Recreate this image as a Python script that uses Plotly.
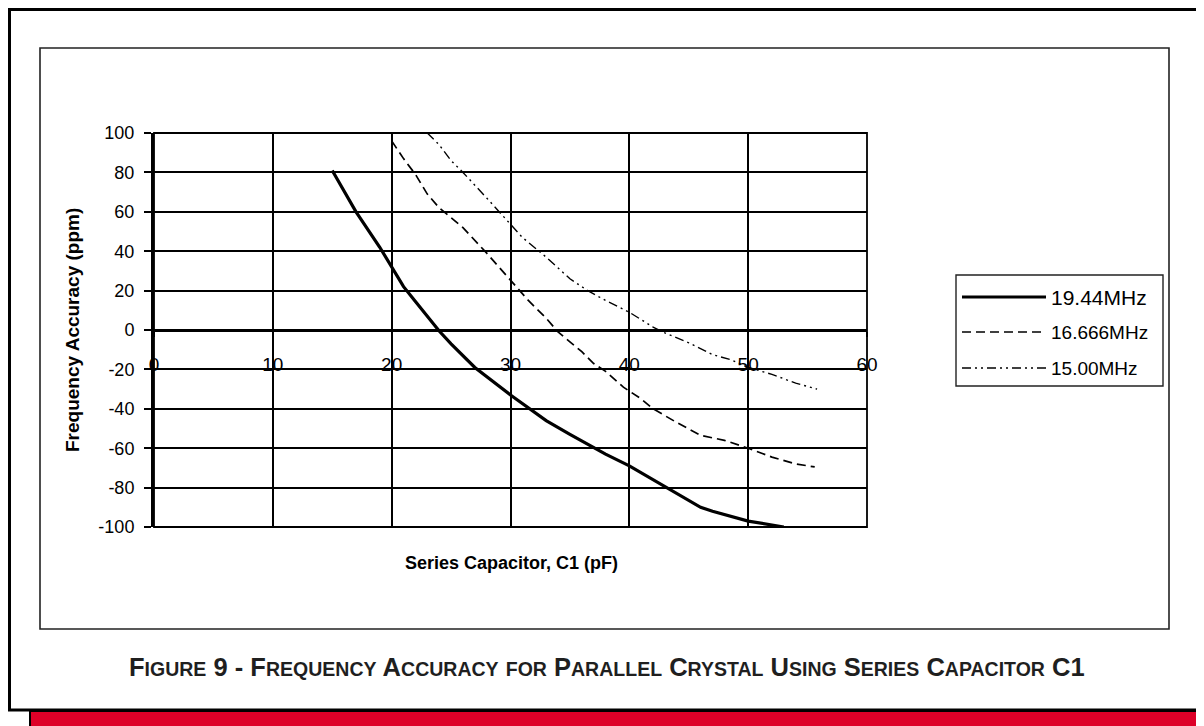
import plotly.graph_objects as go

# ---------------- data ----------------
x_1944 = [15, 17, 19, 20, 21, 22, 23, 24, 25, 27, 30, 33, 35, 38, 40, 42, 44, 46, 47, 50, 53]
y_1944 = [81, 60, 42, 32, 22, 14.5, 7, -0.5, -7, -19, -33, -46, -53, -63, -69, -76, -83, -90, -92, -97, -100]

x_16666 = [20, 21, 22, 23, 24, 25, 26, 28, 30, 31.5, 33, 34, 35, 36, 37, 38, 39.5, 41, 42, 44, 46, 48, 50, 52, 54, 55.6]
y_16666 = [96, 87, 79, 69, 62, 57, 52, 39, 25, 15, 6, -1, -6, -11, -17, -21, -29, -35, -40, -47, -53.5, -56, -60, -64.5, -68, -69.5]

x_1500 = [23, 24, 25, 26, 28, 30, 31, 33, 35, 36.5, 38, 40, 42, 43, 45, 47, 48.5, 50, 52, 54, 55.8]
y_1500 = [100, 94, 86, 80, 67, 54, 47, 37, 26, 20, 15, 9, 1.5, -1.5, -6.5, -12.5, -15, -19, -22.5, -27, -30]

series_names = ["19.44MHz", "16.666MHz", "15.00MHz"]
x_ticks = [0, 10, 20, 30, 40, 50, 60]
y_ticks = [-100, -80, -60, -40, -20, 0, 20, 40, 60, 80, 100]
x_range = [0, 60]
y_range = [-100, 100]

x_title = "Series Capacitor, C1 (pF)"
y_title = "Frequency Accuracy (ppm)"
caption = "Figure 9 - Frequency Accuracy for Parallel Crystal Using Series Capacitor C1"

# ---------------- layout geometry (viewport pixels) ----------------
OFF = 8                      # default page body margin
W, H = 1204 - OFF, 726 - OFF
PL, PR, PT, PB = 154, 867, 133, 527   # plot area in viewport pixels
FONT = "Liberation Sans, Arial, sans-serif"


def px(X):
    return (X - PL) / (PR - PL)


def py(Y):
    return (PB - Y) / (PB - PT)


fig = go.Figure()
styles = [
    dict(color="black", width=3.2, dash="solid"),
    dict(color="black", width=1.7, dash="9px,5px"),
    dict(color="black", width=1.4, dash="9px,4px,2px,4px,2px,4px"),
]
for xs, ys, name, st in zip([x_1944, x_16666, x_1500], [y_1944, y_16666, y_1500], series_names, styles):
    fig.add_trace(go.Scatter(x=xs, y=ys, mode="lines", name=name, line=st,
                             showlegend=False, hoverinfo="skip"))

shapes = []
# outer page frame
shapes.append(dict(type="rect", xref="paper", yref="paper", x0=px(OFF + 1.5), x1=px(1230),
                   y0=py(710), y1=py(OFF + 1.5), line=dict(color="black", width=3), layer="below"))
# red bar
shapes.append(dict(type="rect", xref="paper", yref="paper", x0=px(30), x1=px(1230),
                   y0=py(740), y1=py(711), fillcolor="#DD0028",
                   line=dict(color="black", width=2), layer="below"))
# chart frame
shapes.append(dict(type="rect", xref="paper", yref="paper", x0=px(40), x1=px(1169),
                   y0=py(629), y1=py(48), line=dict(color="#222", width=1.6), layer="below"))
# plot-area frame (grid lines at the range ends)
shapes.append(dict(type="rect", xref="paper", yref="paper", x0=0, x1=1, y0=0, y1=1,
                   line=dict(color="black", width=1.8), layer="below"))
# legend box
shapes.append(dict(type="rect", xref="paper", yref="paper", x0=px(956), x1=px(1163),
                   y0=py(386), y1=py(275), line=dict(color="#222", width=1.4)))

annotations = []
leg_y = [297, 332, 368]
leg_sizes = [21, 19, 19]
for name, st, yy, fs in zip(series_names, styles, leg_y, leg_sizes):
    shapes.append(dict(type="line", xref="paper", yref="paper", x0=px(962), x1=px(1046),
                       y0=py(yy), y1=py(yy), line=st))
    annotations.append(dict(text=name, xref="paper", yref="paper", x=px(1049), y=py(yy),
                            xanchor="left", yanchor="middle", showarrow=False,
                            font=dict(family=FONT, size=fs, color="black")))

# axis titles
annotations.append(dict(text="<b>" + x_title + "</b>", xref="paper", yref="paper",
                        x=px(511), y=py(563), xanchor="center", yanchor="middle",
                        showarrow=False, font=dict(family=FONT, size=18, color="black")))
annotations.append(dict(text="<b>" + y_title + "</b>", xref="paper", yref="paper",
                        x=px(72), y=py(330), xanchor="center", yanchor="middle", textangle=-90,
                        showarrow=False, font=dict(family=FONT, size=19, color="black")))


# small-caps caption
def small_caps(s, small=19.5):
    out = []
    for ch in s:
        if ch.islower():
            out.append('<span style="font-size:%spx">%s</span>' % (small, ch.upper()))
        else:
            out.append(ch)
    return "<b>" + "".join(out) + "</b>"


annotations.append(dict(text=small_caps(caption), xref="paper", yref="paper",
                        x=px(607), y=py(667), xanchor="center", yanchor="middle",
                        showarrow=False,
                        font=dict(family="Liberation Sans Narrow, Liberation Sans, Arial", size=25.5,
                                  color="#1f1f1f")))

zero_pos = (0 - y_range[0]) / (y_range[1] - y_range[0])

fig.update_layout(
    width=W, height=H,
    margin=dict(l=PL - OFF, r=W - (PR - OFF), t=PT - OFF, b=H - (PB - OFF), pad=0),
    paper_bgcolor="white", plot_bgcolor="white",
    showlegend=False,
    shapes=shapes,
    annotations=annotations,
    xaxis=dict(range=x_range, tickvals=x_ticks, ticktext=[str(v) for v in x_ticks],
               anchor="free", position=zero_pos,
               showgrid=True, gridcolor="black", gridwidth=1.8,
               showline=True, linecolor="black", linewidth=3,
               zeroline=False,
               ticks="outside", ticklen=5, tickwidth=2, tickcolor="black",
               ticklabelstandoff=11,
               tickfont=dict(family=FONT, size=19, color="black")),
    yaxis=dict(range=y_range, tickvals=y_ticks, ticktext=[str(v) for v in y_ticks],
               showgrid=True, gridcolor="black", gridwidth=1.8,
               showline=True, linecolor="black", linewidth=3,
               zeroline=False,
               ticks="outside", ticklen=7, tickwidth=2, tickcolor="black",
               ticklabelstandoff=6,
               tickfont=dict(family=FONT, size=18, color="black")),
)

fig.write_html("out.html")
